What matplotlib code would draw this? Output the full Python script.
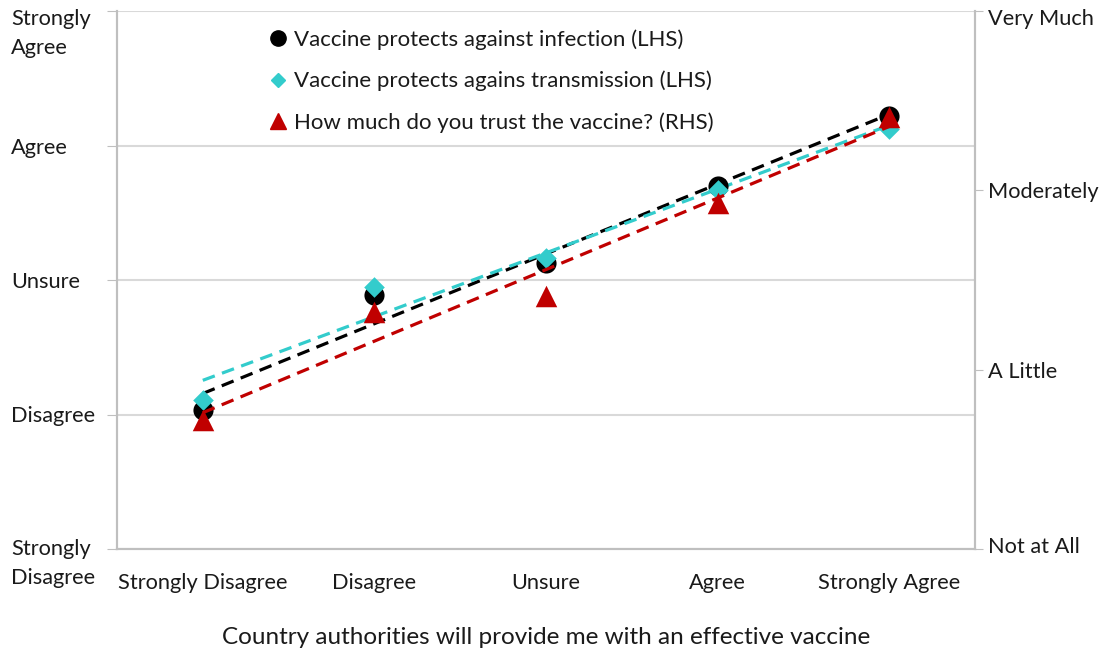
import matplotlib
matplotlib.use("Agg")
import matplotlib.pyplot as plt
import matplotlib.transforms as mtransforms
from matplotlib.lines import Line2D
import numpy as np

plt.rcParams['font.family'] = ['Lato', 'DejaVu Sans']

x_categories = ["Strongly Disagree", "Disagree", "Unsure", "Agree", "Strongly Agree"]
left_labels = ["Strongly\nDisagree", "Disagree", "Unsure", "Agree", "Strongly\nAgree"]
right_labels = ["Not at All", "A Little", "Moderately", "Very Much"]

infection = [2.03, 2.89, 3.13, 3.70, 4.22]
transmission = [2.11, 2.95, 3.16, 3.67, 4.12]
trust = [1.72, 2.32, 2.41, 2.93, 3.41]

name_inf = "Vaccine protects against infection (LHS)"
name_tra = "Vaccine protects agains transmission (LHS)"
name_tru = "How much do you trust the vaccine? (RHS)"

BLACK = "#000000"
CYAN = "#33CCCC"
RED = "#C00000"
GRID = "#D9D9D9"
SPINE = "#BFBFBF"
TXT = "#1A1A1A"
FS = 15.7

fig = plt.figure(figsize=(11.07, 6.48), dpi=100)
ax = fig.add_axes([117/1107, 1-549/648, (975-117)/1107, (549-11)/648])
ax2 = ax.twinx()

xs = np.arange(1, len(x_categories) + 1)

def trend(vals):
    m, b = np.polyfit(xs, vals, 1)
    return m * xs + b

dash = (0, (4.0, 2.4))
LW = 2.3
ax.plot(xs, trend(infection), color=BLACK, lw=LW, linestyle=dash, zorder=2)
ax.plot(xs, trend(transmission), color=CYAN, lw=LW, linestyle=dash, zorder=2)
ax.scatter(xs, infection, marker='o', s=210, color=BLACK, zorder=3, linewidths=0)
ax.scatter(xs, transmission, marker='D', s=110, color=CYAN, zorder=4, linewidths=0)

ax2.plot(xs, trend(trust), color=RED, lw=LW, linestyle=dash, zorder=2)
ax2.scatter(xs, trust, marker='^', s=240, color=RED, zorder=3, linewidths=0)

ax.set_xlim(0.5, 5.5)
ax.set_ylim(1, 5)
ax2.set_ylim(1, 4)

ax.set_xticks(xs)
ax.set_xticklabels(x_categories, fontsize=FS, color=TXT)
ax.tick_params(axis='x', length=0, pad=17.5)

ax.set_yticks([1, 2, 3, 4, 5])
ax.set_yticklabels(left_labels, fontsize=FS, color=TXT, ha='left', linespacing=1.55)
ax.tick_params(axis='y', length=7, color=SPINE, pad=96*0.72)
ax.yaxis.grid(True, color=GRID, lw=1.5)
ax.set_axisbelow(True)

ylabs = ax.get_yticklabels()
ylabs[0].set_va('top')
ylabs[0].set_transform(ylabs[0].get_transform() + mtransforms.ScaledTranslation(0, 10/100, fig.dpi_scale_trans))
ylabs[4].set_va('top')
ylabs[4].set_transform(ylabs[4].get_transform() + mtransforms.ScaledTranslation(0, 2/100, fig.dpi_scale_trans))

ax2.set_yticks([1, 2, 3, 4])
ax2.set_yticklabels(right_labels, fontsize=FS, color=TXT)
ax2.tick_params(axis='y', length=6, color=SPINE, pad=5*0.72)
r = ax2.get_yticklabels()
r[3].set_transform(r[3].get_transform() + mtransforms.ScaledTranslation(0, -6/100, fig.dpi_scale_trans))
r[0].set_transform(r[0].get_transform() + mtransforms.ScaledTranslation(0, 4/100, fig.dpi_scale_trans))

for a in (ax, ax2):
    a.spines['top'].set_visible(False)
    for s in ('left', 'right', 'bottom'):
        a.spines[s].set_color(SPINE)
        a.spines[s].set_linewidth(1.5)

ax.set_xlabel("Country authorities will provide me with an effective vaccine",
              fontsize=17.5, color=TXT, labelpad=24)

handles = [
    Line2D([], [], marker='o', color=BLACK, linestyle='none', markersize=11),
    Line2D([], [], marker='D', color=CYAN, linestyle='none', markersize=7.5),
    Line2D([], [], marker='^', color=RED, linestyle='none', markersize=11),
]
leg = ax2.legend(handles, [name_inf, name_tra, name_tru], loc='upper left',
                 bbox_to_anchor=((270-117)/858, 1 - (29-11)/538), frameon=False,
                 fontsize=16.0, handlelength=0.7, handletextpad=0.4, labelspacing=0.95,
                 borderpad=0, borderaxespad=0)
for t in leg.get_texts():
    t.set_color(TXT)

fig.savefig("out.png", dpi=100)
